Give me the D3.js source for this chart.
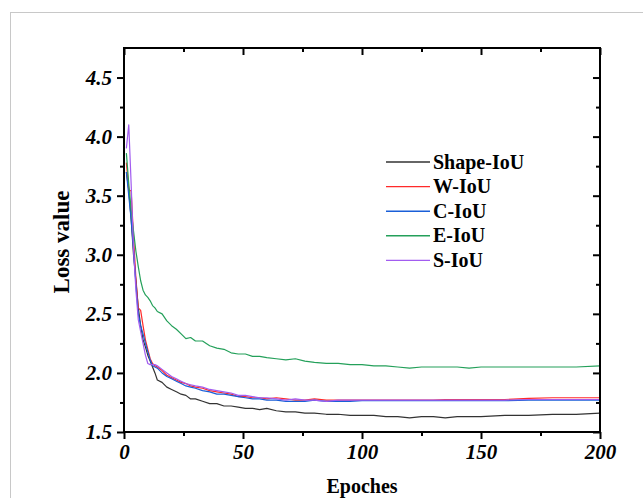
<!DOCTYPE html>
<html>
<head>
<meta charset="utf-8">
<script src="https://cdn.jsdelivr.net/npm/d3@7"></script>
<style>
	html, body { margin: 0; padding: 0; background: #fff; }
	svg { display: block; }
	.tick-label { font-family: 'Liberation Serif', 'Times New Roman', serif; font-weight: bold; font-style: italic; font-size: 21px; }
	.title { font-family: 'Liberation Serif', 'Times New Roman', serif; font-weight: bold; font-size: 20px; }
	.legend-text { font-family: 'Liberation Serif', 'Times New Roman', serif; font-weight: bold; font-size: 20px; }
</style>
</head>
<body>
<script>
const epochs = [1, 2, 3, 4, 5, 6, 7, 8, 9, 10, 11, 12, 13, 14, 16, 18, 20, 22, 24, 26, 28, 30, 33, 36, 39, 42, 45, 48, 51, 54, 57, 60, 64, 68, 72, 76, 80, 85, 90, 95, 100, 105, 110, 115, 120, 125, 130, 135, 140, 145, 150, 160, 170, 180, 190, 200];

const shapeIoU = [3.70, 3.55, 3.30, 3.00, 2.78, 2.55, 2.40, 2.28, 2.22, 2.15, 2.10, 2.05, 2.00, 1.94, 1.92, 1.88, 1.86, 1.84, 1.82, 1.81, 1.78, 1.78, 1.76, 1.74, 1.74, 1.72, 1.72, 1.71, 1.70, 1.70, 1.69, 1.70, 1.68, 1.67, 1.67, 1.66, 1.66, 1.65, 1.65, 1.64, 1.64, 1.64, 1.63, 1.63, 1.62, 1.63, 1.63, 1.62, 1.63, 1.63, 1.63, 1.64, 1.64, 1.65, 1.65, 1.66];
const wIoU = [3.78, 3.55, 3.54, 3.15, 2.80, 2.55, 2.53, 2.40, 2.28, 2.20, 2.12, 2.08, 2.06, 2.05, 2.02, 1.98, 1.96, 1.94, 1.92, 1.91, 1.89, 1.88, 1.87, 1.85, 1.84, 1.83, 1.82, 1.80, 1.80, 1.79, 1.79, 1.78, 1.79, 1.78, 1.77, 1.77, 1.78, 1.77, 1.77, 1.77, 1.77, 1.77, 1.77, 1.77, 1.77, 1.77, 1.77, 1.775, 1.775, 1.775, 1.775, 1.775, 1.785, 1.79, 1.79, 1.79];
const cIoU = [3.70, 3.50, 3.30, 3.05, 2.75, 2.50, 2.40, 2.33, 2.25, 2.18, 2.11, 2.06, 2.05, 2.04, 2.00, 1.97, 1.95, 1.93, 1.91, 1.89, 1.88, 1.87, 1.85, 1.84, 1.82, 1.82, 1.81, 1.80, 1.79, 1.78, 1.78, 1.77, 1.77, 1.76, 1.76, 1.76, 1.77, 1.76, 1.76, 1.76, 1.765, 1.765, 1.765, 1.765, 1.765, 1.765, 1.765, 1.765, 1.765, 1.765, 1.765, 1.765, 1.77, 1.77, 1.77, 1.77];
const eIoU = [3.86, 3.60, 3.38, 3.20, 3.03, 2.90, 2.78, 2.70, 2.66, 2.64, 2.61, 2.57, 2.55, 2.52, 2.50, 2.44, 2.40, 2.37, 2.33, 2.29, 2.30, 2.27, 2.27, 2.23, 2.21, 2.20, 2.17, 2.16, 2.16, 2.14, 2.14, 2.13, 2.12, 2.11, 2.12, 2.10, 2.09, 2.08, 2.08, 2.07, 2.07, 2.06, 2.06, 2.05, 2.04, 2.05, 2.05, 2.05, 2.05, 2.04, 2.05, 2.05, 2.05, 2.05, 2.05, 2.06];
const sIoU = [3.90, 4.10, 3.60, 3.05, 2.70, 2.45, 2.35, 2.25, 2.15, 2.08, 2.07, 2.07, 2.07, 2.06, 2.03, 2.00, 1.97, 1.95, 1.93, 1.91, 1.90, 1.89, 1.88, 1.86, 1.85, 1.84, 1.83, 1.81, 1.81, 1.80, 1.79, 1.79, 1.78, 1.77, 1.78, 1.77, 1.77, 1.76, 1.77, 1.77, 1.77, 1.77, 1.77, 1.77, 1.77, 1.77, 1.77, 1.77, 1.77, 1.77, 1.77, 1.77, 1.775, 1.775, 1.775, 1.775];

const seriesNames = ['Shape-IoU', 'W-IoU', 'C-IoU', 'E-IoU', 'S-IoU'];
const seriesValues = [shapeIoU, wIoU, cIoU, eIoU, sIoU];
const seriesColors = ['#333333', '#ff2a2a', '#1a5fd8', '#24a05a', '#a25cf0'];

const xTicks = [0, 50, 100, 150, 200];
const yTicks = [1.5, 2.0, 2.5, 3.0, 3.5, 4.0, 4.5];

(function() {
	const width = 643, height = 498;
	const svg = d3.select('body').append('svg')
		.attr('width', width)
		.attr('height', height);

	svg.append('rect').attr('width', width).attr('height', height).attr('fill', '#fff');
	// faint page frame
	svg.append('rect')
		.attr('x', 10.5).attr('y', 12.5)
		.attr('width', 800).attr('height', 800)
		.attr('fill', 'none')
		.attr('stroke', '#c8c8c8')
		.attr('stroke-width', 1);

	const mLeft = 124, mRight = 600, mTop = 48, mBottom = 432;
	const x = d3.scaleLinear().domain([0, 200]).range([mLeft, mRight]);
	const y = d3.scaleLinear().domain([1.5, 4.75]).range([mBottom, mTop]);

	// curves
	const line = d3.line()
		.x(function(d) { return x(d[0]); })
		.y(function(d) { return y(d[1]); });

	const plot = svg.append('g');
	seriesValues.forEach(function(vals, i) {
		plot.append('path')
			.datum(epochs.map(function(e, j) { return [e, vals[j]]; }))
			.attr('d', line)
			.attr('fill', 'none')
			.attr('stroke', seriesColors[i])
			.attr('stroke-width', 1.2)
			.attr('stroke-linejoin', 'round');
	});

	// axes: bottom/left ticks outward with labels, top/right ticks inward
	const xMinor = [25, 75, 125, 175];
	const yMinor = [1.75, 2.25, 2.75, 3.25, 3.75, 4.25];

	function styleAxis(g) {
		g.select('.domain').remove();
		g.selectAll('.tick line').attr('stroke', '#000').attr('stroke-width', 2);
	}
	function styleLabels(g) {
		g.selectAll('.tick text')
			.attr('class', 'tick-label')
			.attr('fill', '#000');
		g.attr('font-size', null).attr('font-family', null);
	}

	svg.append('g')
		.attr('transform', `translate(0,${mBottom})`)
		.call(d3.axisBottom(x).tickValues(xTicks).tickSize(7).tickPadding(5).tickFormat(d3.format('d')))
		.call(styleAxis)
		.call(styleLabels);
	svg.append('g')
		.attr('transform', `translate(0,${mBottom})`)
		.call(d3.axisBottom(x).tickValues(xMinor).tickSize(4).tickFormat(''))
		.call(styleAxis);

	svg.append('g')
		.attr('transform', `translate(${mLeft},0)`)
		.call(d3.axisLeft(y).tickValues(yTicks).tickSize(7).tickPadding(5).tickFormat(d3.format('.1f')))
		.call(styleAxis)
		.call(styleLabels);
	svg.append('g')
		.attr('transform', `translate(${mLeft},0)`)
		.call(d3.axisLeft(y).tickValues(yMinor).tickSize(4).tickFormat(''))
		.call(styleAxis);

	svg.append('g')
		.attr('transform', `translate(0,${mTop})`)
		.call(d3.axisBottom(x).tickValues(xTicks).tickSize(7).tickFormat(''))
		.call(styleAxis);
	svg.append('g')
		.attr('transform', `translate(0,${mTop})`)
		.call(d3.axisBottom(x).tickValues(xMinor).tickSize(4).tickFormat(''))
		.call(styleAxis);

	svg.append('g')
		.attr('transform', `translate(${mRight},0)`)
		.call(d3.axisLeft(y).tickValues(yTicks).tickSize(7).tickFormat(''))
		.call(styleAxis);
	svg.append('g')
		.attr('transform', `translate(${mRight},0)`)
		.call(d3.axisLeft(y).tickValues(yMinor).tickSize(4).tickFormat(''))
		.call(styleAxis);

	// frame
	svg.append('rect')
		.attr('x', mLeft).attr('y', mTop)
		.attr('width', mRight - mLeft).attr('height', mBottom - mTop)
		.attr('fill', 'none')
		.attr('stroke', '#000')
		.attr('stroke-width', 2);

	// titles
	svg.append('text')
		.attr('class', 'title')
		.attr('x', (mLeft + mRight) / 2)
		.attr('y', 493)
		.attr('text-anchor', 'middle')
		.text('Epoches');
	svg.append('text')
		.attr('class', 'title')
		.attr('transform', `translate(69,242) rotate(-90)`)
		.attr('text-anchor', 'middle')
		.style('font-size', '23px')
		.text('Loss value');

	// legend
	const legend = svg.append('g');
	seriesNames.forEach(function(name, i) {
		const ly = 162 + i * 24.6;
		legend.append('line')
			.attr('x1', 386).attr('x2', 430)
			.attr('y1', ly).attr('y2', ly)
			.attr('stroke', seriesColors[i])
			.attr('stroke-width', 1.4);
		legend.append('text')
			.attr('class', 'legend-text')
			.attr('x', 433)
			.attr('y', ly + 6.5)
			.text(name);
	});
})();
</script>
</body>
</html>
